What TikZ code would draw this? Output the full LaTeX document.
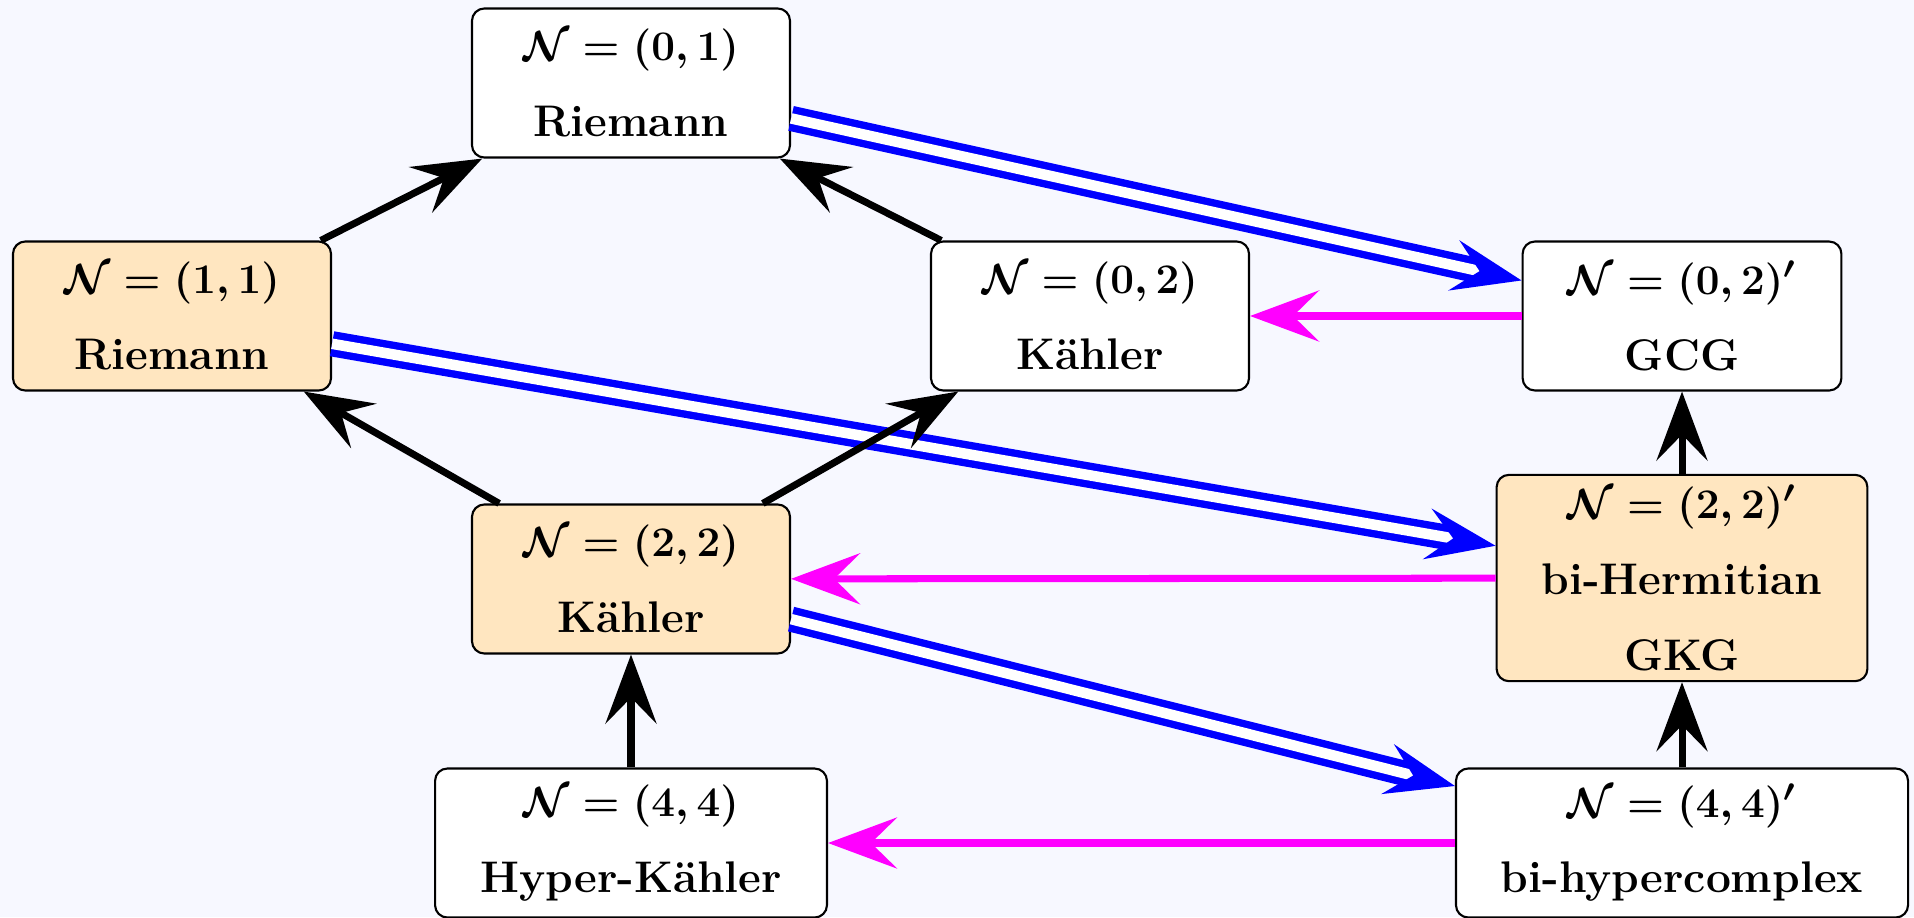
\documentclass[tikz,border=0pt]{standalone}
\usepackage{amsmath, amssymb}
\usepackage{xcolor}
\definecolor{bgpaper}{RGB}{247,248,255}
\definecolor{sugar}{RGB}{255,230,192}
\definecolor{pinkm}{RGB}{255,0,255}
\definecolor{bluel}{RGB}{0,0,255}
\usepackage{tikz}
\usetikzlibrary{arrows.meta, positioning}

\begin{document}
\begin{tikzpicture}[
  box/.style={rectangle, rounded corners=3.5pt, draw=black, semithick, fill=white,
              align=center, minimum width=3.18cm, minimum height=1.49cm,
              inner xsep=0.45cm, inner ysep=3pt,
              font=\fontsize{12.6}{21.6}\selectfont\bfseries\boldmath},
  boxo/.style={box, fill=sugar},
  arrowbase/.style={-{Stealth[length=6.9mm, width=5.1mm, inset=2.6mm]}, line width=2pt},
  arrow/.style={arrowbase, black},
  arrowm/.style={arrowbase, pinkm},
  arrowd/.style={arrowbase, bluel, line width=2.1pt, double=white, double distance=3pt}
]
\useasboundingbox[fill=bgpaper] (0,0) rectangle (19.14,9.17);
\node[box]  (n01)  at (6.31,8.34)  {$\mathcal{N}=(0,1)$\\Riemann};
\node[boxo] (n11)  at (1.72,6.01)  {$\mathcal{N}=(1,1)$\\Riemann};
\node[box]  (n02)  at (10.90,6.01) {$\mathcal{N}=(0,2)$\\K\"ahler};
\node[box]  (n02p) at (16.82,6.01) {$\mathcal{N}=(0,2)'$\\GCG};
\node[boxo] (n22)  at (6.31,3.38)  {$\mathcal{N}=(2,2)$\\K\"ahler};
\node[boxo] (n22p) at (16.82,3.39) {$\mathcal{N}=(2,2)'$\\bi-Hermitian\\GKG};
\node[box]  (n44)  at (6.31,0.74)  {$\mathcal{N}=(4,4)$\\Hyper-K\"ahler};
\node[box]  (n44p) at (16.82,0.74) {$\mathcal{N}=(4,4)'$\\bi-hypercomplex};
\draw[arrowd] (n01) -- (n02p);
\draw[arrowd] (n11) -- (n22p);
\draw[arrowd] (n22) -- (n44p);
\draw[arrowm] (n02p) -- (n02);
\draw[arrowm] (n22p) -- (n22);
\draw[arrowm] (n44p) -- (n44);
\draw[arrow] (n11) -- (n01);
\draw[arrow] (n02) -- (n01);
\draw[arrow] (n22) -- (n11);
\draw[arrow] (n22) -- (n02);
\draw[arrow] (n44) -- (n22);
\draw[arrow] (n44p) -- (n22p);
\draw[arrow] (n22p) -- (n02p);
\end{tikzpicture}
\end{document}
